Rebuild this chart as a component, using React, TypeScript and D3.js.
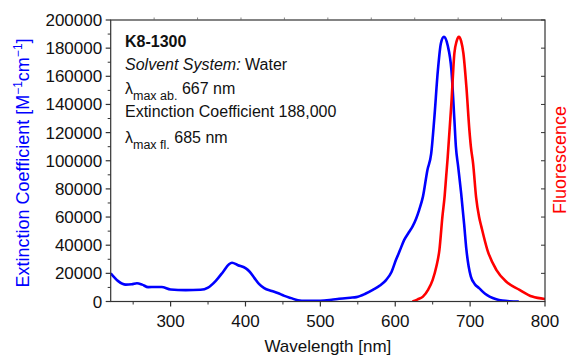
import React from "react";
import * as d3 from "d3";

const absWavelengths = [220,230,240,248,255,262,270,280,288,300,320,340,350,360,370,378,382,390,400,405,412,418,425,435,443,452,461,470,480,500,515,525,540,548,560,570,580,588,595,601,606,612,618,623,628,632,637,643,648,652,657,661,665,670,675,679,681,684,688,692,695,698,701,706,712,720,726,735,743,753,765];
const absValues = [20000,14500,12000,12200,13000,12000,10200,10300,10300,8500,8100,8300,9800,14500,21000,26500,27500,25800,23700,21500,16600,12500,9500,7500,6000,4000,2400,900,500,500,1200,1900,2700,3100,5500,8300,11500,15400,21000,29600,36000,43800,49000,53200,59000,65100,74500,93500,105000,129000,164500,183500,188000,182000,164500,129000,110000,96000,77000,55000,37000,25000,17700,12500,9500,5500,3500,1600,700,200,0];

const flWavelengths = [623,630,637,644,650,655,659,663,666,668,670,675,679,682,685,688,691,695,699,701,704,708,712,715,723,735,748,766,783,800];
const flValues = [0,1500,3500,8500,15400,25000,36700,60300,75000,88700,102000,140900,176400,185000,188000,185000,176400,152600,121900,110000,98000,74000,60000,53200,36700,22500,14200,8300,3500,1800];

const xTicks = [300,400,500,600,700,800];
const xMinorTicks = [250,350,450,550,650,750];
const yTicks = [0,20000,40000,60000,80000,100000,120000,140000,160000,180000,200000];
const yMinorTicks = [10000,30000,50000,70000,90000,110000,130000,150000,170000,190000];
const topTickCount = 10;

const FONT = "'Liberation Sans', Arial, Helvetica, sans-serif";

export default function App() {
  const left = 110.7, right = 545, top = 20, bottom = 301.5;
  const x = d3.scaleLinear().domain([220, 800]).range([left, right]);
  const y = d3.scaleLinear().domain([0, 200000]).range([bottom, top]);
  const line = d3.line<[number, number]>().x(d => x(d[0])).y(d => y(d[1])).curve(d3.curveMonotoneX);
  const absPts = absWavelengths.map((w, i) => [w, absValues[i]] as [number, number]);
  const flPts = flWavelengths.map((w, i) => [w, flValues[i]] as [number, number]);
  const axisColor = "#333";
  const topTicks = d3.range(1, topTickCount).map(i => left + (right - left) * i / topTickCount);

  return (
    <svg width={571} height={358} style={{ position: "absolute", left: 0, top: 0, background: "#fff" }} fontFamily={FONT}>
      <defs>
        <clipPath id="plot"><rect x={left} y={top - 2} width={right - left} height={bottom - top + 2} /></clipPath>
      </defs>
      <rect x={0} y={0} width={571} height={358} fill="#fff" />
      <g clipPath="url(#plot)">
        <path d={line(absPts) || ""} fill="none" stroke="#0000ff" strokeWidth={2.6} strokeLinejoin="round" />
        <path d={line(flPts) || ""} fill="none" stroke="#ff0000" strokeWidth={2.6} strokeLinejoin="round" />
      </g>
      <rect x={left} y={top} width={right - left} height={bottom - top} fill="none" stroke={axisColor} strokeWidth={1.2} />
      {yTicks.map(t => (
        <g key={"y" + t}>
          <line x1={left - 5} x2={left} y1={y(t)} y2={y(t)} stroke={axisColor} strokeWidth={1.2} />
          <text x={left - 8.5} y={y(t) + 6} textAnchor="end" fontSize={17} fill="#111">{t}</text>
          <line x1={right - 4} x2={right} y1={y(t)} y2={y(t)} stroke={axisColor} strokeWidth={1} />
        </g>
      ))}
      {yMinorTicks.map(t => (
        <line key={"ym" + t} x1={left - 3} x2={left} y1={y(t)} y2={y(t)} stroke={axisColor} strokeWidth={1} />
      ))}
      {xTicks.map(t => (
        <g key={"x" + t}>
          <line x1={x(t)} x2={x(t)} y1={bottom} y2={bottom + 5} stroke={axisColor} strokeWidth={1.2} />
          <text x={x(t)} y={bottom + 25} textAnchor="middle" fontSize={17} fill="#111">{t}</text>
        </g>
      ))}
      {xMinorTicks.map(t => (
        <line key={"xm" + t} x1={x(t)} x2={x(t)} y1={bottom} y2={bottom + 3} stroke={axisColor} strokeWidth={1} />
      ))}
      {topTicks.map((px, i) => (
        <line key={"t" + i} x1={px} x2={px} y1={top - 2.5} y2={top} stroke="#666" strokeWidth={0.8} />
      ))}
      <text x={(left + right) / 2} y={352} textAnchor="middle" fontSize={17} fill="#111">Wavelength [nm]</text>
      <text transform={`translate(29,163) rotate(-90)`} textAnchor="middle" fontSize={18} fill="#0000ff">
        Extinction Coefficient [M<tspan dy={-7} fontSize={12}>−1</tspan><tspan dy={7}>cm</tspan><tspan dy={-7} fontSize={12}>−1</tspan><tspan dy={7}>]</tspan>
      </text>
      <text transform={`translate(566,160) rotate(-90)`} textAnchor="middle" fontSize={18} fill="#ff0000">Fluorescence</text>
      <g fontSize={16} fill="#111">
        <text x={125} y={47} fontWeight="bold">K8-1300</text>
        <text x={125} y={70}><tspan fontStyle="italic">Solvent System:</tspan> Water</text>
        <text x={125} y={94}>λ<tspan fontSize={12.5} dy={6}>max ab.</tspan><tspan dy={-6}> 667 nm</tspan></text>
        <text x={125} y={117}>Extinction Coefficient 188,000</text>
        <text x={125} y={143}>λ<tspan fontSize={12.5} dy={6}>max fl.</tspan><tspan dy={-6}> 685 nm</tspan></text>
      </g>
    </svg>
  );
}
